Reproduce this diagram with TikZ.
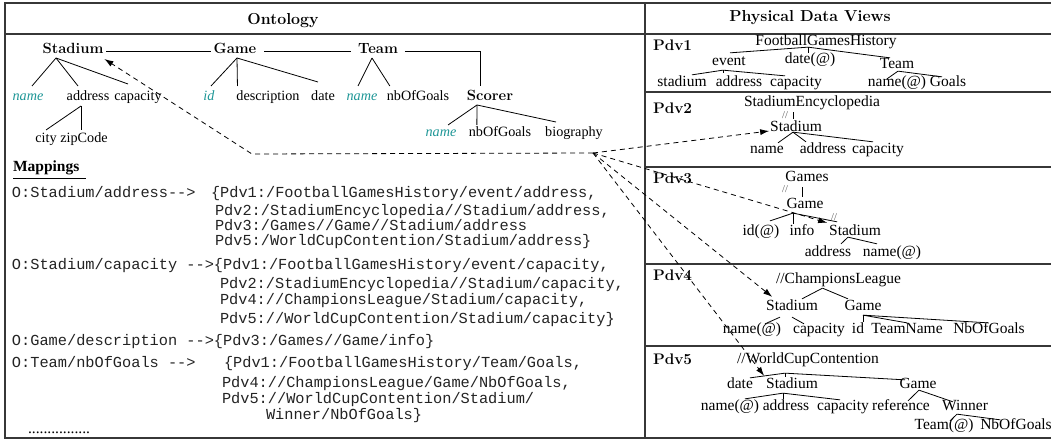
\documentclass[tikz,border=0pt]{standalone}
\usepackage{fontspec}
\newfontfamily\tms{Liberation Serif}
\newfontfamily\mono{Liberation Mono}
\usetikzlibrary{calc,arrows.meta}
\definecolor{nameteal}{RGB}{30,150,150}
\definecolor{rulegray}{RGB}{55,55,55}
\definecolor{slashgray}{RGB}{90,90,90}
\definecolor{monotext}{RGB}{35,35,35}

\begin{document}
\begin{tikzpicture}[x=1pt,y=-1pt,
  every node/.style={inner sep=0pt, outer sep=0pt},
  olab/.style={font=\tms\fontsize{14.2}{16}\selectfont, text height=10pt, text depth=3pt},
  oname/.style={font=\tms\itshape\fontsize{14.2}{16}\selectfont, text height=10pt, text depth=3pt, text=nameteal},
  obold/.style={font=\bfseries\fontsize{14.8}{17}\selectfont, text height=10pt, text depth=3pt},
  plab/.style={font=\tms\fontsize{15.5}{18}\selectfont, text height=11pt, text depth=3.3pt},
  slash/.style={font=\tms\fontsize{10.5}{12}\selectfont, text=slashgray, text height=6.5pt, text depth=0pt},
  pdv/.style={font=\bfseries\fontsize{15.3}{18}\selectfont, anchor=west},
  hdr/.style={font=\bfseries\fontsize{15.9}{18}\selectfont},
  map/.style={font=\mono\fontsize{15.3}{18}\selectfont, anchor=base west, text=monotext},
  tree/.style={line width=0.8pt},
  frame/.style={line width=1.3pt, draw=rulegray},
  link/.style={dash pattern=on 5pt off 4pt, line width=0.8pt, -{Latex[length=9pt,width=6pt]}},
]
\useasboundingbox (0,0) rectangle (1051,441);

% ---------- frame ----------
\draw[frame] (5,3) rectangle (1060,438);
\draw[frame] (645,3) -- (645,438);
\draw[frame] (5,34) -- (1060,34);
\draw[frame] (645,92) -- (1060,92);
\draw[frame] (645,167) -- (1060,167);
\draw[frame] (645,264) -- (1060,264);
\draw[frame] (645,346) -- (1060,346);

\node[hdr] (ontohdr) at (283,21) {Ontology};
\node[hdr] (pdvhdr) at (810,18) {Physical Data Views};

% ---------- ontology ----------
\node[obold] (stad) at (73,50) {Stadium};
\node[obold] (game) at (235,50) {Game};
\node[obold] (team) at (378,50) {Team};
\node[obold] (scorer) at (490,97) {Scorer};

\node[oname] (sname) at (28,97) {name};
\node[olab] (saddr) at (88,97) {address};
\node[olab] (scap) at (138,97) {capacity};
\node[olab] (city) at (46,139) {city};
\node[olab] (zip) at (84,139) {zipCode};

\node[oname] (gid) at (209,97) {id};
\node[olab] (gdesc) at (268,97) {description};
\node[olab] (gdate) at (323,97) {date};

\node[oname] (tname) at (362,97) {name};
\node[olab] (tnb) at (418,97) {nbOfGoals};

\node[oname] (scname) at (441,133) {name};
\node[olab] (scnb) at (500,133) {nbOfGoals};
\node[olab] (scbio) at (574,133) {biography};

\draw[tree] ($(stad.east)+(3,1)$) -- ($(game.west)+(-3,1)$);
\draw[tree] ($(game.east)+(8,1)$) -- ($(team.west)+(-7,1)$);
\draw[tree] ($(team.east)+(7,1)$) -| ($(scorer.north)+(-10,-4.5)$);

\coordinate (stadF) at ($(stad.south)+(-17,1.5)$);
\draw[tree] (stadF) -- ($(sname.north)+(4,-4.5)$);
\draw[tree] (stadF) -- ($(saddr.north)+(-10,-4.5)$);
\draw[tree] (stadF) -- ($(scap.north)+(-10,-6.5)$);

\coordinate (addrF) at ($(saddr.south)+(-7,2.5)$);
\draw[tree] (addrF) -- ($(city.north)+(0,-2.5)$);
\draw[tree] (addrF) -- ($(zip.north)+(-3,-2.5)$);

\coordinate (gameF) at ($(game.south)+(2,1.5)$);
\draw[tree] (gameF) -- ($(gid.north)+(2,-4.5)$);
\draw[tree] (gameF) -- ($(gdesc.north west)+(1,-4.5)$);
\draw[tree] (gameF) -- ($(gdate.north)+(-5,-8.5)$);

\coordinate (teamF) at ($(team.south)+(-6,1.5)$);
\draw[tree] (teamF) -- ($(tname.north)+(-4,-4.5)$);
\draw[tree] (teamF) -- ($(tnb.north west)+(3,-4.5)$);

\coordinate (scorerF) at ($(scorer.south)+(-13,1.5)$);
\draw[tree] (scorerF) -- ($(scname.north)+(7,-1.5)$);
\draw[tree] (scorerF) -- ($(scnb.north west)+(8,-1.5)$);
\draw[tree] (scorerF) -- ($(scbio.north)+(-18,-4.5)$);

% ---------- mappings ----------
\node[font=\tms\bfseries\fontsize{15.5}{18}\selectfont, anchor=west] (maphdr) at (13,168) {Mappings};
\draw[line width=0.8pt] ($(maphdr.south west)+(0,3)$) -- ($(maphdr.south east)+(7,3)$);

\node[map] (m1a) at (12,197) {O:Stadium/address-->};
\node[map] (m1b) at (211,197) {\{Pdv1:/FootballGamesHistory/event/address,};
\node[map] (m1c) at (215,215) {Pdv2:/StadiumEncyclopedia//Stadium/address,};
\node[map] (m1d) at (215,230) {Pdv3:/Games//Game//Stadium/address};
\node[map] (m1e) at (215,245) {Pdv5:/WorldCupContention/Stadium/address\}};

\node[map] (m2a) at (12,269) {O:Stadium/capacity -->\{Pdv1:/FootballGamesHistory/event/capacity,};
\node[map] (m2b) at (220,288) {Pdv2:/StadiumEncyclopedia//Stadium/capacity,};
\node[map] (m2c) at (220,304) {Pdv4://ChampionsLeague/Stadium/capacity,};
\node[map] (m2d) at (220,323) {Pdv5://WorldCupContention/Stadium/capacity\}};

\node[map] (m3) at (12,345) {O:Game/description -->\{Pdv3:/Games//Game/info\}};

\node[map] (m4a) at (12,367) {O:Team/nbOfGoals -->};
\node[map] (m4b) at (224,367) {\{Pdv1:/FootballGamesHistory/Team/Goals,};
\node[map] (m4c) at (222,387) {Pdv4://ChampionsLeague/Game/NbOfGoals,};
\node[map] (m4d) at (222,403) {Pdv5://WorldCupContention/Stadium/};
\node[map] (m4e) at (266,419) {Winner/NbOfGoals\}};

\node[font=\tms\fontsize{15.5}{18}\selectfont, anchor=base west] (dots) at (28,433) {................};

% ---------- Pdv1 ----------
\node[pdv] (p1) at (653,45) {Pdv1};
\node[plab] (fgh) at (826,42) {FootballGamesHistory};
\node[plab] (ev) at (729,62) {event};
\node[plab] (dt) at (810,60) {date(@)};
\node[plab] (tm) at (897,65) {Team};
\node[plab] (st1) at (682,83) {stadium};
\node[plab] (ad1) at (739,83) {address};
\node[plab] (cp1) at (796,83) {capacity};
\node[plab] (nm1) at (897,83) {name(@)};
\node[plab] (gl1) at (948,83) {Goals};

\coordinate (fghF) at ($(fgh.south)+(-18,-2)$);
\draw[tree] (fghF) -- ($(ev.north)+(1,-2)$);
\draw[tree] (fghF) -- ($(dt.north)+(-2,0)$);
\draw[tree] (fghF) -- ($(tm.north)+(-7,0)$);
\coordinate (evF) at ($(ev.south)+(-6,1)$);
\draw[tree] (evF) -- ($(st1.north)+(10,-1)$);
\draw[tree] (evF) -- ($(ad1.north)+(-16,-3)$);
\draw[tree] (evF) -- ($(cp1.north)+(-11,0)$);
\coordinate (tmF) at ($(tm.south)+(1,-1)$);
\draw[tree] (tmF) -- ($(nm1.north)+(-10,3)$);
\draw[tree] (tmF) -- ($(gl1.north)+(-6,1)$);

% ---------- Pdv2 ----------
\node[pdv] (p2) at (653,108) {Pdv2};
\node[plab] (se) at (812,103) {StadiumEncyclopedia};
\node[slash] (sl2) at (785,115) {//};
\node[plab] (stad2) at (796,128) {Stadium};
\node[plab] (nm2) at (767,150) {name};
\node[plab] (ad2) at (823,150) {address};
\node[plab] (cp2) at (878,150) {capacity};

\draw[tree] ($(se.south)+(-19,2)$) -- ($(stad2.north)+(-3,-2)$);
\coordinate (st2F) at ($(stad2.south)+(-3,-3)$);
\draw[tree] (st2F) -- ($(nm2.north)+(11,0)$);
\draw[tree] (st2F) -- ($(ad2.north)+(-17,-1)$);
\draw[tree] (st2F) -- ($(cp2.north)+(-5,-1)$);

% ---------- Pdv3 ----------
\node[pdv] (p3) at (653,178) {Pdv3};
\node[plab] (games) at (807,178) {Games};
\node[slash] (sl3) at (785,189.5) {//};
\node[plab] (game3) at (805,205) {Game};
\node[plab] (id3) at (761,232) {id(@)};
\node[plab] (info3) at (802,232) {info};
\node[plab] (st3) at (855,232) {Stadium};
\node[slash] (sl3b) at (834,217) {//};
\node[plab] (ad3) at (828,253) {address};
\node[plab] (nm3) at (892,253) {name(@)};

\draw[tree] ($(games.south)+(-5,2)$) -- ($(game3.north)+(-3,-1)$);
\coordinate (g3F) at ($(game3.south)+(-12,1)$);
\draw[tree] (g3F) -- ($(id3.north)+(9,-4)$);
\draw[tree] (g3F) -- ($(info3.north)+(-9,-1)$);
\draw[tree] (g3F) -- ($(st3.north west)+(8,-3)$);
\coordinate (st3F) at ($(st3.south)+(-7,-2)$);
\draw[tree] (st3F) -- ($(ad3.north)+(13,-2)$);
\draw[tree] (st3F) -- ($(nm3.north)+(-15,-2)$);

% ---------- Pdv4 ----------
\node[pdv] (p4) at (653,275) {Pdv4};
\node[plab] (cl) at (838.5,280) {//ChampionsLeague};
\node[plab] (st4) at (792,307) {Stadium};
\node[plab] (gm4) at (863,307) {Game};
\node[plab] (nm4) at (752,330) {name(@)};
\node[plab] (cp4) at (819,330) {capacity};
\node[plab] (id4) at (858,330) {id};
\node[plab] (tn4) at (907,330) {TeamName};
\node[plab] (nb4) at (989,330) {NbOfGoals};

\coordinate (clF) at ($(cl.south)+(-16,1)$);
\draw[tree] (clF) -- ($(st4.north)+(10,-1)$);
\draw[tree] (clF) -- ($(gm4.north)+(-15,-1)$);
\draw[tree] ($(st4.south)+(-12,3)$) -- ($(nm4.north)+(13,1)$);
\draw[tree] ($(st4.south)+(0,3)$) -- ($(cp4.north)+(-15,1)$);
\coordinate (gm4F) at ($(gm4.south)+(0,1)$);
\draw[tree] (gm4F) -- ($(id4.north)+(5,-1)$);
\draw[tree] (gm4F) -- (tn4.north);
\draw[tree] (gm4F) -- ($(nb4.north)+(-1,0)$);

% ---------- Pdv5 ----------
\node[pdv] (p5) at (653,359) {Pdv5};
\node[plab] (wc) at (808,360) {//WorldCupContention};
\node[plab] (date5) at (740,385) {date};
\node[plab] (st5) at (792,385) {Stadium};
\node[plab] (gm5) at (918,385) {Game};
\node[plab] (nm5) at (730,407) {name(@)};
\node[plab] (ad5) at (786,407) {address};
\node[plab] (cp5) at (843,407) {capacity};
\node[plab] (ref5) at (901,407) {reference};
\node[plab] (win5) at (965,407) {Winner};
\node[plab] (tm5) at (944,426) {Team(@)};
\node[plab] (nb5) at (1016,426) {NbOfGoals};

\coordinate (wcF) at ($(wc.south)+(-23,6)$);
\draw[tree] (wcF) -- ($(date5.north)+(10,0)$);
\draw[tree] (wcF) -- ($(st5.north)+(-7,-1)$);
\draw[tree] (wcF) -- ($(gm5.north)+(-13,2)$);
\coordinate (st5F) at ($(st5.south)+(-9,1)$);
\draw[tree] (st5F) -- ($(nm5.north)+(15,-1)$);
\draw[tree] (st5F) -- ($(ad5.north)+(-3,-1)$);
\draw[tree] (st5F) -- ($(cp5.north)+(-3,0)$);
\coordinate (gm5F) at ($(gm5.south)+(1,-2)$);
\draw[tree] (gm5F) -- ($(ref5.north)+(7,1)$);
\draw[tree] (gm5F) -- ($(win5.north)+(-12,2)$);
\coordinate (win5F) at ($(win5.south)+(-8,0)$);
\draw[tree] (win5F) -- ($(tm5.north)+(6,2)$);
\draw[tree] (win5F) -- ($(nb5.north west)+(20,1)$);

% ---------- mapping links ----------
\coordinate (hub) at (593,153);
\coordinate (bend) at (252,154);
\draw[link] (hub) -- (bend) -- ($(stad.south east)+(1,2.5)$);
\draw[link] (hub) -- ($(stad2.west)+(-1,3)$);
\draw[link] (hub) -- ($(st3.north west)+(-2,-2)$);
\draw[link] (hub) -- ($(st4.north west)+(6,-3)$);
\draw[link] (hub) -- ($(st5.north west)+(-2,-2)$);
\end{tikzpicture}
\end{document}
